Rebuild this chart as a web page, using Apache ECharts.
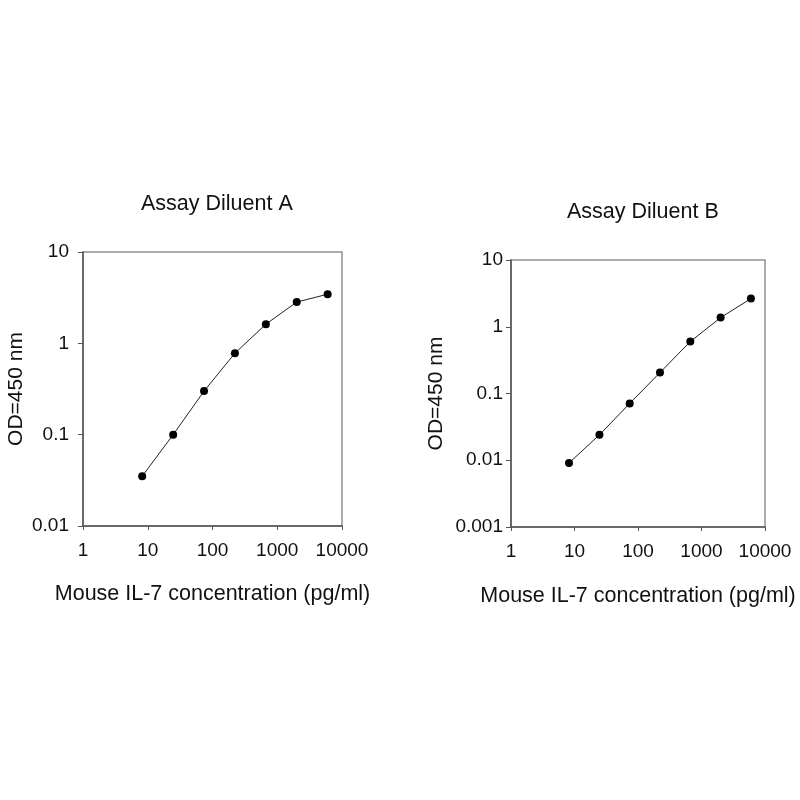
<!DOCTYPE html>
<html>
<head>
<meta charset="utf-8">
<script src="https://cdn.jsdelivr.net/npm/echarts@6/dist/echarts.min.js"></script>
<style>
  html, body { margin: 0; padding: 0; background: #fff; }
  #main { width: 800px; height: 800px; }
</style>
</head>
<body>
<div id="main"></div>
<script>
var myChart = echarts.init(document.getElementById('main'));

// concentrations (pg/ml), 3-fold dilution series
var conc = [8.2, 24.7, 74, 222, 667, 2000, 6000];
// OD at 450 nm
var odA = [0.035, 0.10, 0.30, 0.78, 1.62, 2.83, 3.45];
var odB = [0.0091, 0.024, 0.071, 0.206, 0.60, 1.37, 2.64];

var titleA = 'Assay Diluent A';
var titleB = 'Assay Diluent B';
var xName = 'Mouse IL-7 concentration (pg/ml)';
var yName = 'OD=450 nm';

function pairs(xs, ys) {
    var out = [];
    for (var i = 0; i < xs.length; i++) {
        out.push([xs[i], ys[i]]);
    }
    return out;
}

function fmt(v) {
    return String(+(+v).toPrecision(6));
}

var font = 'Liberation Sans, Arial, sans-serif';

function xAxis(idx, gap) {
    return {
        type: 'log',
        logBase: 10,
        gridIndex: idx,
        min: 1,
        max: 10000,
        name: xName,
        nameLocation: 'middle',
        nameGap: gap,
        nameTextStyle: { fontFamily: font, fontSize: 21.5, color: '#111' },
        axisLine: { lineStyle: { color: '#4f5656', width: 1.5 } },
        axisTick: { inside: false, length: 4, lineStyle: { color: '#4f5656' } },
        axisLabel: { formatter: fmt, margin: 15, fontFamily: font, fontSize: 19, color: '#111' },
        splitLine: { show: false },
        minorTick: { show: false }
    };
}

function yAxis(idx, min, gap, margin) {
    return {
        type: 'log',
        logBase: 10,
        gridIndex: idx,
        min: min,
        max: 10,
        name: yName,
        nameLocation: 'middle',
        nameGap: gap,
        nameTextStyle: { fontFamily: font, fontSize: 21, color: '#111' },
        axisLine: { lineStyle: { color: '#4f5656', width: 1.5 } },
        axisTick: { inside: false, length: 5, lineStyle: { color: '#4f5656' } },
        axisLabel: { formatter: fmt, margin: margin, fontFamily: font, fontSize: 19, color: '#111' },
        splitLine: { show: false }
    };
}

function series(idx, ys) {
    return {
        type: 'line',
        xAxisIndex: idx,
        yAxisIndex: idx,
        data: pairs(conc, ys),
        symbol: 'circle',
        symbolSize: 8,
        itemStyle: { color: '#000' },
        lineStyle: { color: '#222', width: 1 },
        animation: false
    };
}

option = {
    backgroundColor: '#fff',
    title: [
        {
            text: titleA,
            left: 136,
            top: 188,
            textStyle: { fontFamily: font, fontSize: 21.5, fontWeight: 'normal', color: '#111' }
        },
        {
            text: titleB,
            left: 562,
            top: 196,
            textStyle: { fontFamily: font, fontSize: 21.5, fontWeight: 'normal', color: '#111' }
        }
    ],
    grid: [
        { left: 83, top: 252, width: 259, height: 274, show: true, borderColor: '#8a9292', borderWidth: 1.5 },
        { left: 511, top: 260, width: 254, height: 267, show: true, borderColor: '#8a9292', borderWidth: 1.5 }
    ],
    xAxis: [xAxis(0, 57), xAxis(1, 58)],
    yAxis: [yAxis(0, 0.01, 56, 14), yAxis(1, 0.001, 64, 8)],
    series: [series(0, odA), series(1, odB)]
};

myChart.setOption(option);
</script>
</body>
</html>
